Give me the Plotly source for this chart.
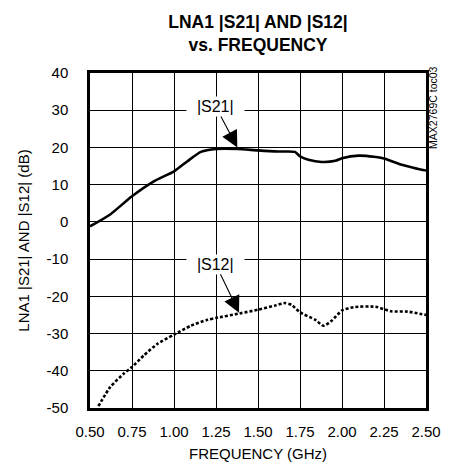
import plotly.graph_objects as go

# ---- data ----
freq_s21 = [0.50, 0.62, 0.75, 0.88, 1.00, 1.08, 1.16, 1.25, 1.38, 1.50, 1.62, 1.72,
            1.75, 1.80, 1.88, 1.96, 2.00, 2.10, 2.19, 2.25, 2.35, 2.43, 2.50]
s21_db = [-1.2, 2.0, 6.9, 10.9, 13.6, 16.3, 18.8, 19.6, 19.6, 19.2, 18.9, 18.8,
          17.6, 16.7, 16.1, 16.4, 17.1, 17.8, 17.5, 17.0, 15.4, 14.5, 13.8]

freq_s12 = [0.55, 0.62, 0.70, 0.75, 0.82, 0.90, 1.00, 1.10, 1.20, 1.25, 1.39, 1.50,
            1.60, 1.66, 1.70, 1.75, 1.84, 1.89, 1.94, 2.00, 2.07, 2.20, 2.29, 2.39, 2.50]
s12_db = [-49.5, -44.4, -40.8, -39.0, -35.9, -32.8, -30.3, -27.9, -26.3, -25.8, -24.6, -23.6,
          -22.5, -21.8, -22.3, -24.3, -26.3, -27.9, -26.5, -23.8, -22.9, -22.8, -24.0, -24.1, -25.0]

x_tickvals = [0.50, 0.75, 1.00, 1.25, 1.50, 1.75, 2.00, 2.25, 2.50]
x_ticktext = ["0.50", "0.75", "1.00", "1.25", "1.50", "1.75", "2.00", "2.25", "2.50"]
y_tickvals = [40, 30, 20, 10, 0, -10, -20, -30, -40, -50]
y_ticktext = ["40", "30", "20", "10", "0", "-10", "-20", "-30", "-40", "-50"]

title_text = "LNA1 |S21| AND |S12|<br>vs. FREQUENCY"
x_title = "FREQUENCY (GHz)"
y_title = "LNA1 |S21| AND |S12| (dB)"
watermark = "MAX2769C toc03"

# label positions (text) and arrow targets, in data units
s21_label = dict(text="|S21|", tx=1.248, ty=31.0, hx=1.377, hy=20.0)
s12_label = dict(text="|S12|", tx=1.248, ty=-11.4, hx=1.387, hy=-24.4)

FONT = "Liberation Sans, Arial, sans-serif"

fig = go.Figure()
fig.add_trace(go.Scatter(x=freq_s21, y=s21_db, mode="lines",
                         line=dict(color="black", width=2.6, shape="spline", smoothing=0.6),
                         showlegend=False, hoverinfo="skip"))
fig.add_trace(go.Scatter(x=freq_s12, y=s12_db, mode="lines",
                         line=dict(color="black", width=2.6, dash="3px,2px", shape="spline", smoothing=0.6),
                         showlegend=False, hoverinfo="skip"))

annotations = []
for lab in (s21_label, s12_label):
    annotations.append(dict(
        x=lab["hx"], y=lab["hy"], ax=lab["tx"], ay=lab["ty"],
        xref="x", yref="y", axref="x", ayref="y",
        text="\u00a0\u00a0" + lab["text"] + "\u00a0\u00a0",
        showarrow=True, arrowhead=2, arrowsize=3.0, arrowwidth=1.1, arrowcolor="black",
        bgcolor="white", borderpad=1,
        font=dict(family=FONT, size=16, color="black"),
    ))
annotations.append(dict(
    x=1.021, y=0.896, xref="paper", yref="paper", text=watermark, showarrow=False,
    textangle=-90, xanchor="center", yanchor="middle",
    font=dict(family=FONT, size=10.5, color="black"),
))

fig.update_layout(
    width=454, height=475,
    margin=dict(l=82, r=36, t=65, b=75, autoexpand=False),
    paper_bgcolor="white", plot_bgcolor="white",
    font=dict(family=FONT, size=15, color="black"),
    title=dict(text="<b>" + title_text + "</b>", x=250 / 454, xanchor="center",
               y=0.958, yanchor="top", font=dict(family=FONT, size=17.5, color="black")),
    annotations=annotations,
)
fig.update_xaxes(range=[0.5, 2.5], tickvals=x_tickvals, ticktext=x_ticktext,
                 showgrid=True, gridcolor="black", gridwidth=1,
                 showline=True, linecolor="black", linewidth=2.5, mirror=True,
                 ticks="", zeroline=False, ticklabelstandoff=8, automargin=False,
                 title=dict(text=x_title, standoff=10, font=dict(size=15)),
                 tickfont=dict(size=15))
fig.update_yaxes(range=[-50, 40], tickvals=y_tickvals, ticktext=y_ticktext,
                 showgrid=True, gridcolor="black", gridwidth=1,
                 showline=True, linecolor="black", linewidth=2.5, mirror=True,
                 ticks="", zeroline=False, ticklabelstandoff=16, automargin=False,
                 title=dict(text=y_title, standoff=14, font=dict(size=15)),
                 tickfont=dict(size=15))

fig.write_html("out.html")
